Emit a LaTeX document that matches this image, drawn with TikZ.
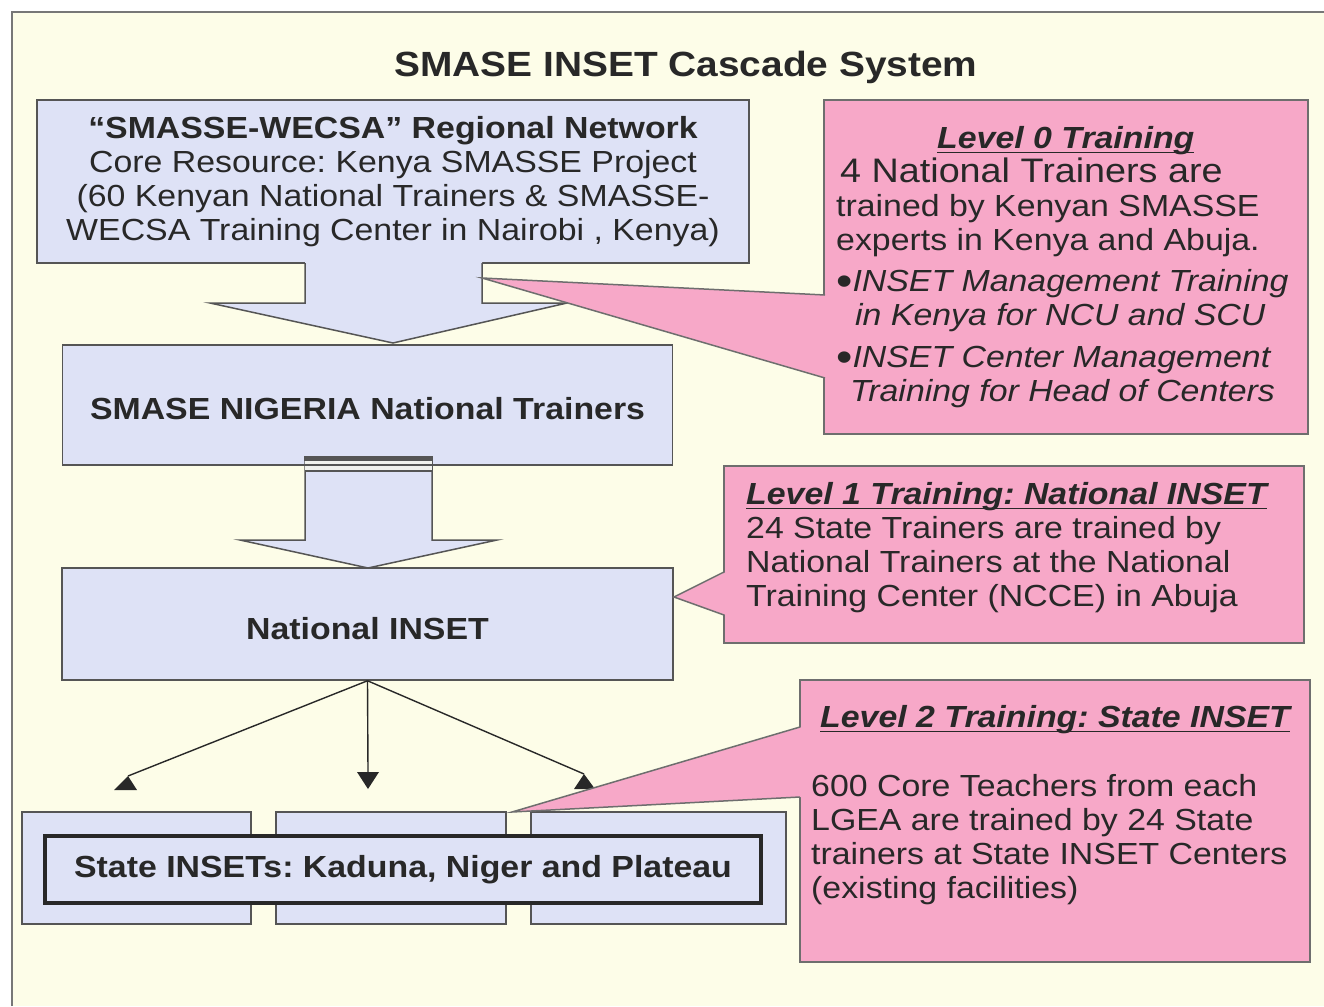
\documentclass[tikz,border=0pt]{standalone}
\usepackage{fontspec}
\setmainfont{Liberation Sans}[FakeStretch=1.11]
\frenchspacing

\definecolor{paper}{RGB}{253,253,232}
\definecolor{boxblue}{RGB}{222,226,246}
\definecolor{calloutpink}{RGB}{247,168,200}
\definecolor{edge}{RGB}{85,85,85}
\definecolor{inktext}{RGB}{40,40,40}

% underlined heading of a training level
\newcommand{\lvlhead}[1]{\setbox0\hbox{\bfseries\itshape #1}\rlap{\rule[-5pt]{\wd0}{1.8pt}}\box0}
% big round bullet
\newcommand{\bigdot}{\raisebox{-4pt}{\upshape\fontsize{42}{34}\selectfont\textbullet}}

\tikzset{
  bluebox/.style={draw=edge, line width=1.5pt, fill=boxblue, inner sep=0pt},
  pinkbox/.style={draw=edge!85, line width=1.5pt, fill=calloutpink, inner sep=0pt},
  body/.style={font=\fontsize{30.5}{34}\selectfont, text=inktext},
  connector/.style={draw=inktext, line width=1.4pt},
}

\begin{document}
\begin{tikzpicture}[x=1pt,y=-1pt]
  \useasboundingbox (0,0) rectangle (1324,1006);

  % Paper and frame
  \fill[white] (0,0) rectangle (1324,1006);
  \fill[paper] (12,12) rectangle (1324,1006);
  \draw[edge!80, line width=1.5pt] (12,1006) -- (12,12) -- (1324,12);

  % Title
  \node[font=\bfseries\fontsize{35}{40}\selectfont, text=inktext, anchor=base] (title) at (686,77) {SMASE INSET Cascade System};

  % Regional network box
  \node[bluebox, body, align=center, minimum width=712pt, minimum height=163pt] (net) at (393,181.5)
    {\textbf{“SMASSE-WECSA” Regional Network}\\
     Core Resource: Kenya SMASSE Project\\
     (60 Kenyan National Trainers \& SMASSE-\\
     WECSA Training Center in Nairobi , Kenya)};

  % Block arrow down to the national trainers
  \fill[boxblue] (305,262) -- (305,303) -- (210,303) -- (393,343) -- (567,303) -- (482,303) -- (482,262) -- cycle;
  \draw[edge, line width=1.5pt] (305,263) -- (305,303) -- (210,303) -- (393,343) -- (567,303) -- (482,303) -- (482,263);

  % National trainers
  \node[bluebox, body, font=\bfseries\fontsize{30.5}{34}\selectfont, text height=30pt,
        minimum width=610pt, minimum height=120pt] (trainers) at (367.5,405) {SMASE NIGERIA National Trainers};

  % Block arrow down to the national INSET
  \fill[boxblue] (305,456) -- (305,540) -- (240,540) -- (368,568) -- (497,540) -- (432,540) -- (432,456) -- cycle;
  \draw[edge, line width=1.5pt] (305,456) -- (305,540) -- (240,540) -- (368,568) -- (497,540) -- (432,540) -- (432,456);
  \fill[paper!60!boxblue] (305,461) rectangle (432,470);
  \draw[edge, line width=5pt] (304,458) -- (433,458);
  \draw[edge, line width=1.5pt] (305,465) -- (432,465);
  \draw[edge, line width=1.5pt] (305,471) -- (432,471);

  % National INSET
  \node[bluebox, body, font=\bfseries\fontsize{30.5}{34}\selectfont, text height=32pt,
        minimum width=611pt, minimum height=112pt] (natl) at (367.5,624) {National INSET};

  % State INSET boxes
  \foreach \i/\l/\r in {1/22/251, 2/276/506, 3/531/786}{
    \node[bluebox, minimum width={(\r-\l)*1pt}, minimum height=112pt] (st\i) at ({(\l+\r)/2},868) {};
  }
  \node[bluebox, draw=inktext, line width=4pt, body, font=\bfseries\fontsize{30.5}{34}\selectfont,
        minimum width=716pt, minimum height=67pt] (states) at (403,869.5) {State INSETs: Kaduna, Niger and Plateau};

  % Connectors to the states
  \coordinate (sw) at (128,776);
  \coordinate (s) at (368,772);
  \coordinate (se) at (584,774);
  \draw[connector] (natl.south) -- (sw);
  \draw[connector] (natl.south) -- (s);
  \draw[connector] (natl.south) -- (se);
  \fill[inktext] (sw) -- ++(-14,14) -- ++(23,0) -- cycle;
  \fill[inktext] (s) ++(-11,0) -- ++(22,0) -- ++(-11,17) -- cycle;
  \fill[inktext] (se) -- ++(-10,15) -- ++(21,0) -- cycle;

  % Level 0 callout
  \node[pinkbox, minimum width=484pt, minimum height=334pt] (lvl0) at (1066,267) {};
  \fill[calloutpink] (482,278) -- (827,295) -- (827,378) -- cycle;
  \draw[edge!85, line width=1.5pt] (825,295) -- (482,278) -- (825,378);
  \node[body, align=left, anchor=north west, inner sep=0pt] (lvl0-text) at (836,126)
    {\hspace*{101pt}\lvlhead{Level 0 Training}\\
     \hspace*{4pt}{\fontsize{34}{34}\selectfont 4 National Trainers are}\\
     trained by Kenyan SMASSE\\
     experts in Kenya and Abuja.\\[7pt]
     {\itshape \bigdot INSET Management Training}\\
     \hspace*{19pt}{\itshape in Kenya for NCU and SCU}\\[8pt]
     {\itshape \bigdot INSET Center Management}\\
     \hspace*{14pt}{\itshape Training for Head of Centers}};

  % Level 1 callout
  \node[pinkbox, minimum width=580pt, minimum height=177pt] (lvl1) at (1014,554.5) {};
  \fill[calloutpink] (674,597) -- (726,572) -- (726,615) -- cycle;
  \draw[edge!85, line width=1.5pt] (724,572) -- (674,597) -- (724,615);
  \node[body, align=left, anchor=north west, inner sep=0pt] (lvl1-text) at (746,482)
    {\lvlhead{Level 1 Training: National INSET}\\
     24 State Trainers are trained by\\
     National Trainers at the National\\
     Training Center (NCCE) in Abuja};

  % Level 2 callout
  \node[pinkbox, minimum width=510pt, minimum height=282pt] (lvl2) at (1055,821) {};
  \fill[calloutpink] (512,812) -- (802,727) -- (802,797) -- cycle;
  \draw[edge!85, line width=1.5pt] (800,727) -- (512,812) -- (800,797);
  \node[body, align=left, anchor=north west, inner sep=0pt] (lvl2-text) at (811,705)
    {\hspace*{9pt}\lvlhead{Level 2 Training: State INSET}\\[35pt]
     600 Core Teachers from each\\
     LGEA are trained by 24 State\\
     trainers at State INSET Centers\\
     (existing facilities)};
\end{tikzpicture}
\end{document}
